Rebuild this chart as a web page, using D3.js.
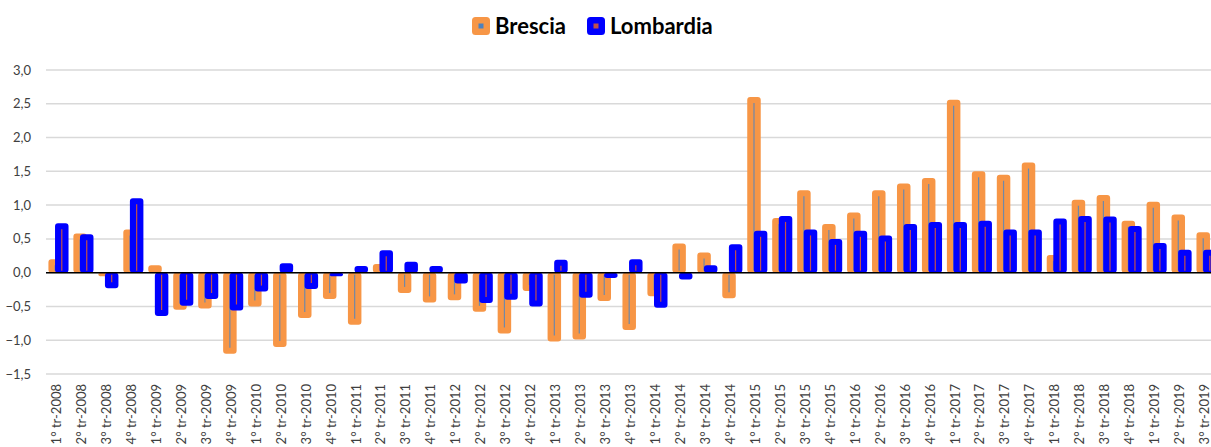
<!DOCTYPE html>
<html>
<head>
<meta charset="utf-8">
<script src="https://cdn.jsdelivr.net/npm/d3@7"></script>
<style>
  body { margin: 0; background: #fff; overflow: hidden; }
  text { font-family: Lato, "Liberation Sans", sans-serif; }
</style>
</head>
<body>
<svg id="chart"></svg>
<script>
const width = 1211, height = 447;

// Quarters 2008 Q1 .. 2019 Q3
const years = d3.range(2008, 2020);
const categories = years.flatMap(y => [1, 2, 3, 4].map(q => `${q}° tr-${y}`)).slice(0, 47);

const brescia = [
  0.20, 0.58, -0.04, 0.64, 0.11, -0.55, -0.53, -1.20, -0.50, -1.10, -0.67, -0.39,
  -0.77, 0.13, -0.30, -0.44, -0.41, -0.58, -0.90, -0.27, -1.02, -0.99, -0.42, -0.85,
  -0.35, 0.43, 0.30, -0.38, 2.60, 0.81, 1.22, 0.72, 0.89, 1.22, 1.32, 1.40,
  2.56, 1.50, 1.45, 1.63, 0.26, 1.08, 1.15, 0.77, 1.05, 0.86, 0.60
];
const lombardia = [
  0.73, 0.57, -0.23, 1.10, -0.64, -0.49, -0.39, -0.56, -0.28, 0.14, -0.24, -0.05,
  0.10, 0.33, 0.16, 0.10, -0.16, -0.45, -0.40, -0.50, 0.19, -0.37, -0.08, 0.20,
  -0.52, -0.10, 0.11, 0.42, 0.62, 0.84, 0.64, 0.50, 0.62, 0.55, 0.72, 0.75,
  0.75, 0.77, 0.64, 0.64, 0.80, 0.84, 0.83, 0.69, 0.44, 0.34, 0.34
];
const yTicks = [-1.5, -1.0, -0.5, 0, 0.5, 1.0, 1.5, 2.0, 2.5, 3.0];

const series = [
  { name: 'Brescia', values: brescia, color: '#f79646', inner: '#7088a8', mark: '#4f81bd' },
  { name: 'Lombardia', values: lombardia, color: '#0000ff', inner: '#c0504d', mark: '#c0504d' }
];

const margin = { top: 70, left: 46 };
const plotRight = 1219, plotBottom = 374;

const svg = d3.select('#chart').attr('width', width).attr('height', height);

const x = d3.scaleBand().domain(categories).range([margin.left, plotRight]);
const bw = x.bandwidth();
const xSub = d3.scalePoint().domain(series.map(s => s.name)).range([bw / 2 - 3.3, bw / 2 + 3.3]);
const barW = 13.5;

const y = d3.scaleLinear().domain([-1.5, 3.0]).range([plotBottom, margin.top]);
const fmt = v => d3.format('.1f')(v).replace('.', ',');

// Grid
svg.append('g')
  .selectAll('line')
  .data(yTicks)
  .join('line')
  .attr('x1', margin.left).attr('x2', width)
  .attr('y1', d => y(d)).attr('y2', d => y(d))
  .attr('stroke', '#d9d9d9').attr('stroke-width', 1.5);

// Y axis labels
svg.append('g')
  .selectAll('text')
  .data(yTicks)
  .join('text')
  .attr('x', 31).attr('y', d => y(d))
  .attr('dy', '0.35em')
  .attr('text-anchor', 'end')
  .attr('font-size', 13)
  .attr('fill', '#404040')
  .text(fmt);

// Bars
series.forEach(s => {
  const g = svg.append('g').attr('class', 'series');
  const data = s.values.map((v, i) => ({ cat: categories[i], v }));
  g.selectAll('rect')
    .data(data)
    .join('rect')
    .attr('x', d => x(d.cat) + xSub(s.name) - barW / 2 + 1.5)
    .attr('width', barW - 3)
    .attr('y', d => Math.min(y(0), y(d.v)) + 1.5)
    .attr('height', d => Math.max(0.5, Math.abs(y(d.v) - y(0)) - 3))
    .attr('rx', 1.5)
    .attr('fill', s.color)
    .attr('stroke', s.color)
    .attr('stroke-width', 3)
    .attr('stroke-linejoin', 'round');

  g.selectAll('line')
    .data(data.filter(d => Math.abs(y(d.v) - y(0)) > 12))
    .join('line')
    .attr('x1', d => x(d.cat) + xSub(s.name))
    .attr('x2', d => x(d.cat) + xSub(s.name))
    .attr('y1', d => y(0) + (d.v > 0 ? -2 : 2))
    .attr('y2', d => y(d.v) + (d.v > 0 ? 6 : -6))
    .attr('stroke', s.inner)
    .attr('stroke-width', 1.2);
});

// Zero line
svg.append('line')
  .attr('x1', margin.left).attr('x2', width)
  .attr('y1', y(0)).attr('y2', y(0))
  .attr('stroke', '#000').attr('stroke-width', 1.5);

// X labels
svg.append('g')
  .selectAll('text')
  .data(categories)
  .join('text')
  .attr('transform', d => `translate(${x(d) + bw / 2 - 2},384) rotate(-90)`)
  .attr('dy', '0.35em')
  .attr('text-anchor', 'end')
  .attr('font-size', 13)
  .attr('fill', '#404040')
  .text(d => d);

// Legend
const legend = svg.append('g').attr('transform', 'translate(472,26)');
series.forEach((s, i) => {
  const gi = legend.append('g').attr('transform', `translate(${i * 115},0)`);
  gi.append('rect')
    .attr('x', 1.5).attr('y', -7.5).attr('width', 15).attr('height', 15)
    .attr('rx', 2)
    .attr('fill', s.color).attr('stroke', s.color).attr('stroke-width', 3);
  gi.append('rect')
    .attr('x', 6.5).attr('y', -2.5).attr('width', 5).attr('height', 5)
    .attr('fill', s.mark);
  gi.append('text')
    .attr('x', 23).attr('y', 0).attr('dy', '0.36em')
    .attr('font-size', 22).attr('font-weight', 'bold')
    .attr('fill', '#000')
    .text(s.name);
});
</script>
</body>
</html>
